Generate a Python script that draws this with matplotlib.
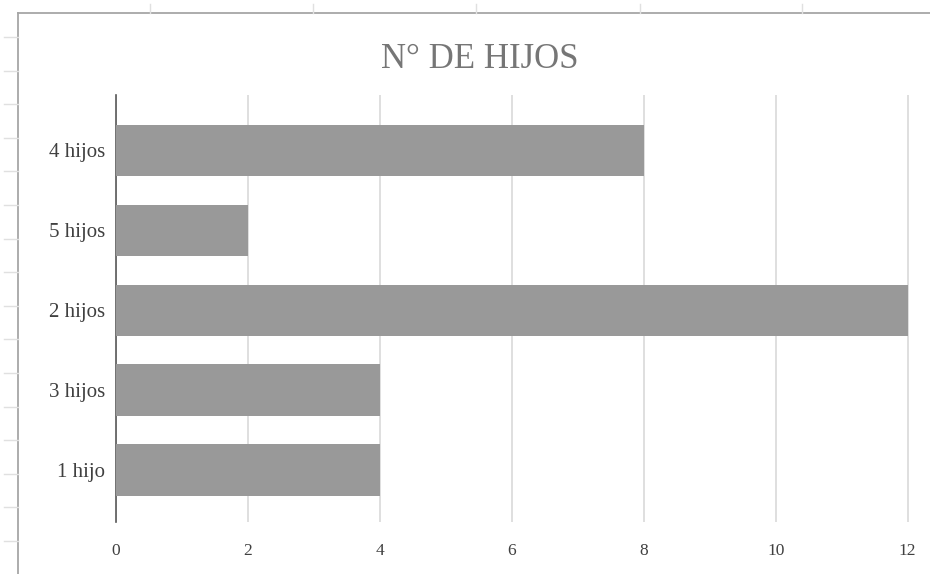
import matplotlib
matplotlib.use('Agg')
import matplotlib.pyplot as plt
from matplotlib.lines import Line2D
import numpy as np

categorias = ['1 hijo', '3 hijos', '2 hijos', '5 hijos', '4 hijos']
valores = [4, 4, 12, 2, 8]
x_ticks = [0, 2, 4, 6, 8, 10, 12]

plt.rcParams['font.family'] = ['Liberation Serif', 'DejaVu Serif']

W, H = 930, 574
fig = plt.figure(figsize=(W / 100, H / 100), dpi=100)
ax = fig.add_axes([116 / W, 1 - 522 / H, (909 - 116) / W, (522 - 95) / H])

pos = np.arange(len(categorias))
ax.barh(pos, valores, height=0.64, color='#999999', zorder=3)

ax.set_xlim(0, 12.02)
ax.set_ylim(-0.65, 4.69)
ax.set_xticks(x_ticks)
ax.set_yticks(pos)
ax.set_yticklabels(categorias)
ax.tick_params(axis='both', length=0, colors='#404040')
ax.tick_params(axis='x', pad=15, labelsize=12.5)
ax.tick_params(axis='y', pad=8, labelsize=15)
ax.grid(axis='x', color='#d9d9d9', linewidth=1.2, zorder=0)
for s in ['top', 'right', 'bottom']:
    ax.spines[s].set_visible(False)
ax.spines['left'].set_color('#595959')
ax.spines['left'].set_linewidth(1.2)

fig.text(480 / W, 1 - 60 / H, 'N° DE HIJOS', ha='center', va='center',
         fontsize=25, color='#767676')

# spreadsheet frame and cell marks around the chart
def px_line(x0, y0, x1, y1, c='#bfbfbf', lw=1.0):
    fig.add_artist(Line2D([x0 / W, x1 / W], [1 - y0 / H, 1 - y1 / H],
                          color=c, linewidth=lw, transform=fig.transFigure))

px_line(18, 13, W, 13, c='#a6a6a6', lw=1.3)
px_line(18, 13, 18, H, c='#a6a6a6', lw=1.3)
for x in [150, 313, 476, 640, 802]:
    px_line(x, 4, x, 13, c='#e0e0e0')
for y in np.arange(37, H, 33.6):
    px_line(4, y, 18, y, c='#e0e0e0')

fig.savefig('out.png', dpi=100)
